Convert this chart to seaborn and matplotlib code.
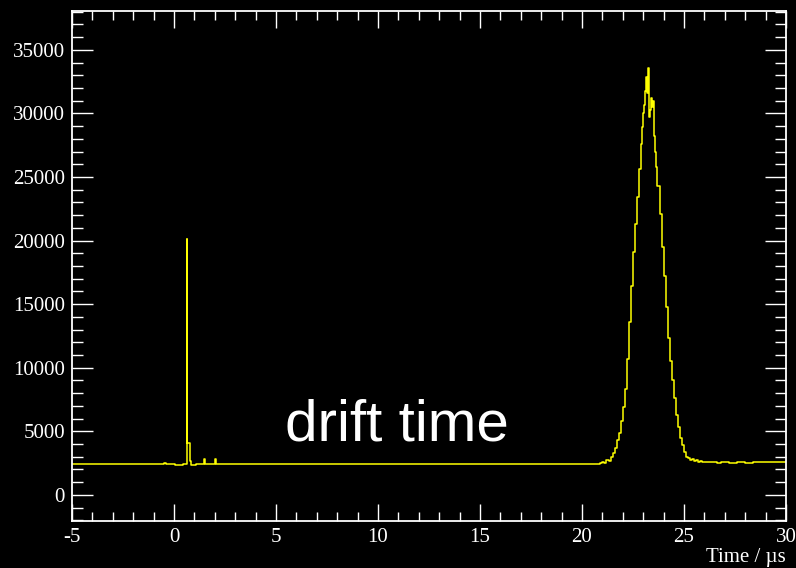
import numpy as np
import pandas as pd
import matplotlib
matplotlib.use("Agg")
import matplotlib.pyplot as plt
from matplotlib.ticker import MultipleLocator
import seaborn as sns

# Drift-time histogram: bin edges (µs) and counts per bin, region by region.
# Baseline before the trigger, with the prompt signal around 0.6 µs.
prompt_edges = [-5.0, -3.6, -1.2, -0.95, -0.7, -0.5, -0.4, 0.05, 0.45, 0.62,
                0.64, 0.66, 0.78, 0.85, 1.10, 1.45, 1.50, 2.03, 2.08, 6.3, 6.8]
prompt_counts = [2440, 2430, 2460, 2410, 2430, 2520, 2430, 2330, 2420, 20100,
                 13800, 4070, 2650, 2330, 2400, 2830, 2430, 2830, 2430, 2400]

# Flat stretch between the prompt signal and the drifted charge.
flat_edges = [6.8, 20.9]
flat_counts = [2430]

# Drifted-charge peak.
peak_edges = [20.9, 21.0, 21.1, 21.2, 21.3, 21.4, 21.5, 21.6, 21.7, 21.8, 21.9,
              22.0, 22.1, 22.2, 22.3, 22.4, 22.5, 22.6, 22.7, 22.8, 22.9,
              22.95, 23.0, 23.05, 23.1, 23.15, 23.2, 23.25, 23.3, 23.35, 23.4,
              23.45, 23.5, 23.55, 23.6, 23.65, 23.7, 23.8, 23.9, 24.0, 24.1,
              24.2, 24.3, 24.4, 24.5, 24.6, 24.7, 24.8, 24.9, 25.0, 25.1,
              25.2, 25.3, 25.4, 25.5, 25.6, 25.7, 25.8, 25.9, 26.0]
peak_counts = [2480, 2550, 2520, 2700, 2650, 2950, 3300, 3650, 4300, 4900,
               5800, 6900, 8300, 10700, 13600, 16400, 19100, 21300, 23400, 25600,
               27600, 28900, 30000, 30700, 31800, 32850, 31600, 33600, 29700, 30300,
               31200, 30500, 31000, 28200, 27000, 25800, 24300, 22100, 19500, 17200,
               14800, 12300, 10500, 9000, 7600, 6300, 5300, 4500, 3900, 3400,
               3000, 2900, 2750, 2800, 2650, 2700, 2600, 2680, 2580]

# Tail after the peak.
tail_edges = [26.0, 26.2, 26.4, 26.6, 26.8, 27.2, 27.6, 28.0, 28.4, 28.8,
              29.2, 29.6, 30.0]
tail_counts = [2620, 2550, 2600, 2540, 2570, 2530, 2580, 2540, 2600, 2550,
               2590, 2560]

x_ticks = [-5, 0, 5, 10, 15, 20, 25, 30]
y_ticks = [0, 5000, 10000, 15000, 20000, 25000, 30000, 35000]
x_label = "Time / µs"
annotation = "drift time"

# Assemble one continuous set of bin edges and counts.
edges = prompt_edges + flat_edges[1:] + peak_edges[1:] + tail_edges[1:]
counts = prompt_counts + flat_counts + peak_counts + tail_counts
centers = [0.5 * (a + b) for a, b in zip(edges[:-1], edges[1:])]
hist_df = pd.DataFrame({"time": centers, "counts": counts})

sns.set_theme(style="ticks")
plt.rcParams.update({
    "font.family": ["Liberation Serif", "DejaVu Serif"],
    "axes.unicode_minus": False,
    "figure.facecolor": "black",
    "axes.facecolor": "black",
    "savefig.facecolor": "black",
})

fig = plt.figure(figsize=(7.96, 5.68), dpi=100)
ax = fig.add_axes([72 / 796, 47 / 568, 714 / 796, 510 / 568])

sns.histplot(data=hist_df, x="time", weights="counts", bins=list(edges),
             element="step", fill=False, color="#ffff00", linewidth=1.1, ax=ax)

ax.set_xlim(-5, 30)
ax.set_ylim(-2060, 38060)

ax.xaxis.set_minor_locator(MultipleLocator(1))
ax.yaxis.set_minor_locator(MultipleLocator(1000))
ax.set_xticks(x_ticks)
ax.set_yticks(y_ticks)
ax.set_xticklabels([str(v) for v in x_ticks])
ax.set_yticklabels([str(v) for v in y_ticks])

for side in ["top", "bottom", "left", "right"]:
    ax.spines[side].set_visible(True)
    ax.spines[side].set_color("white")
    ax.spines[side].set_linewidth(1.3)

ax.tick_params(axis="both", which="both", direction="in", top=True, right=True,
               colors="white", labelcolor="white", labelsize=15, width=1.0, pad=5)
ax.tick_params(axis="x", which="major", length=12)
ax.tick_params(axis="x", which="minor", length=6.2)
ax.tick_params(axis="y", which="major", length=15)
ax.tick_params(axis="y", which="minor", length=7.6)

ax.set_ylabel("")
ax.set_xlabel(x_label, loc="right", color="white", fontsize=15, labelpad=1)

ax.text(10.94, 4300, annotation, color="white", fontsize=42,
        family=["Liberation Sans", "DejaVu Sans"], ha="center", va="baseline")

fig.savefig("out.png", dpi=100)
